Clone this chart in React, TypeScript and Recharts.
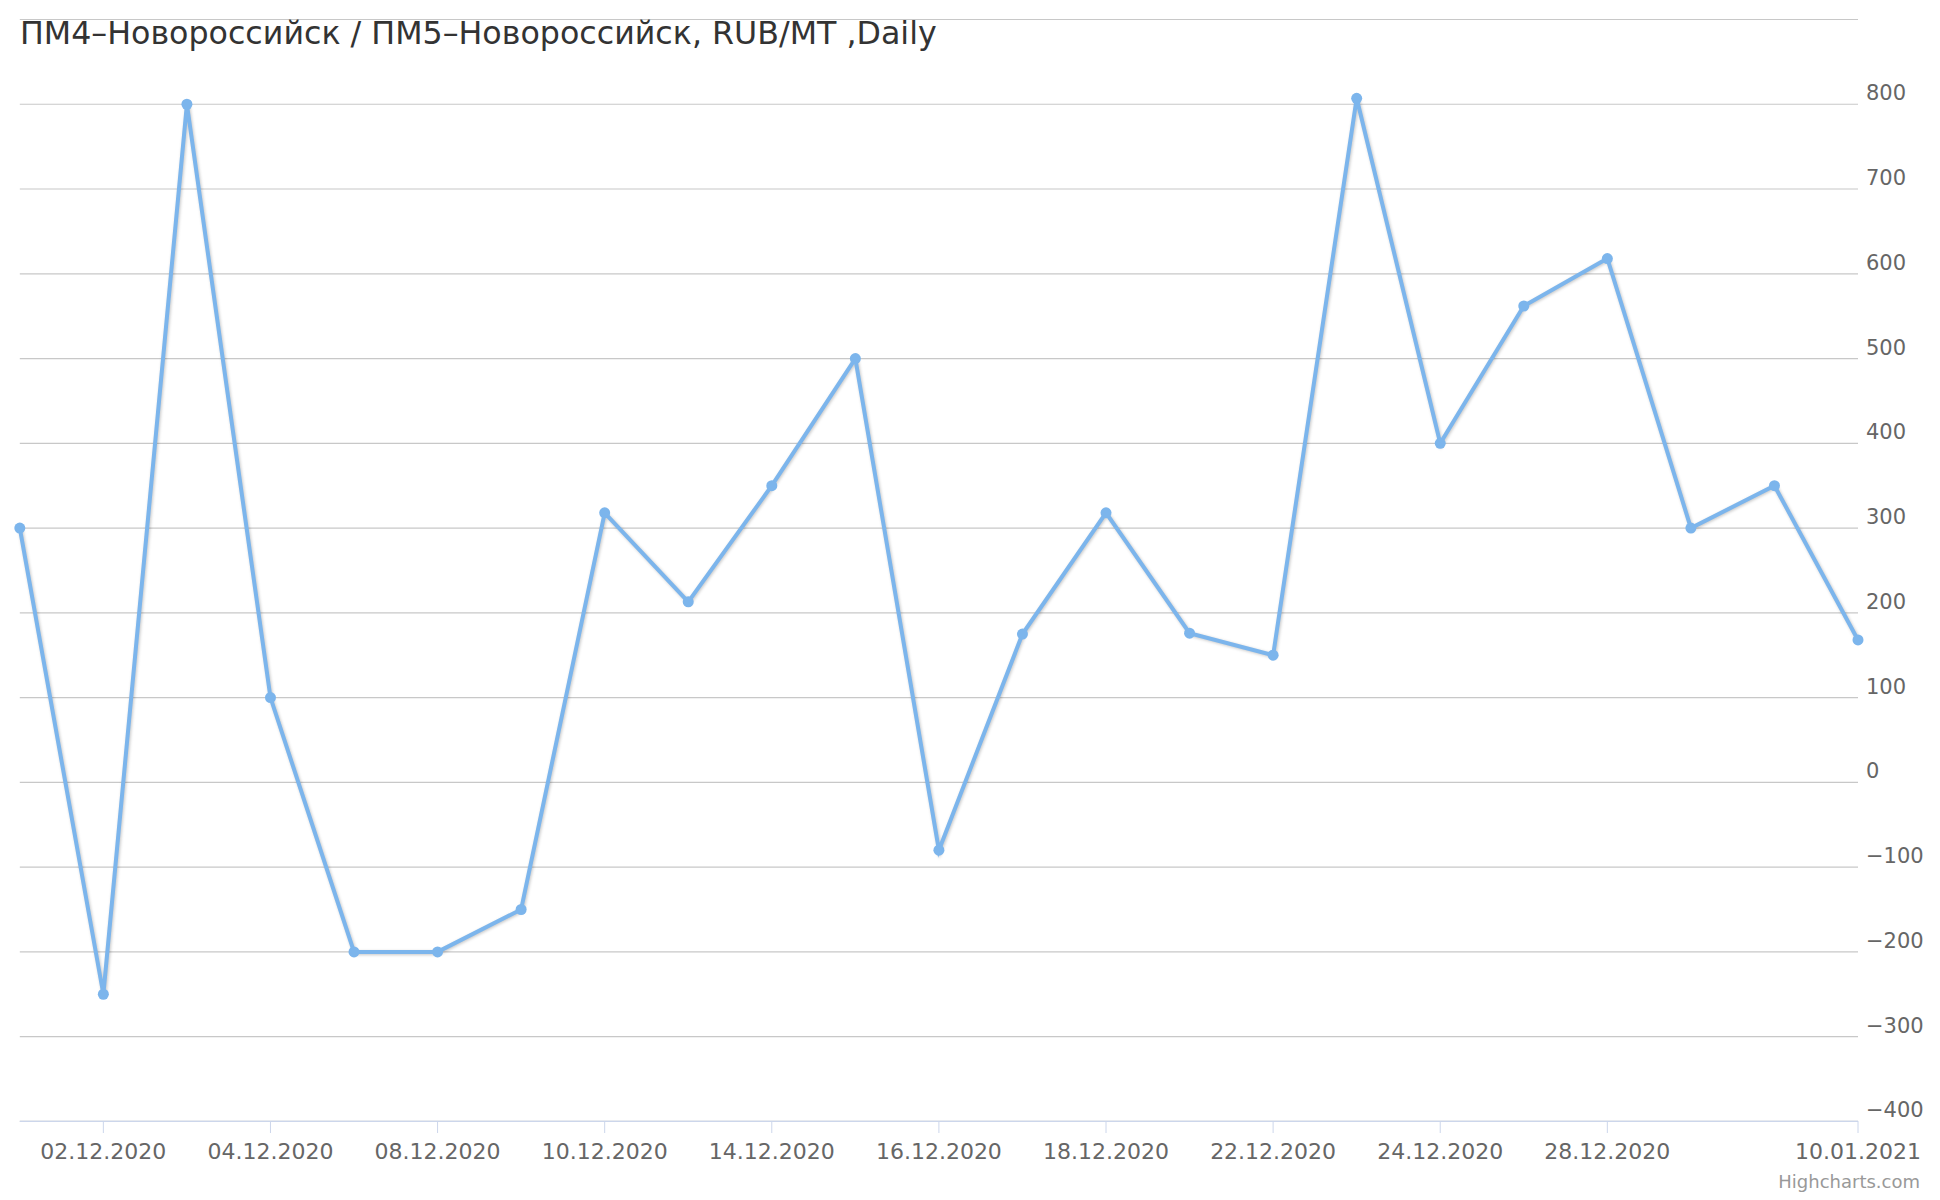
import React from 'react';
import { LineChart, Line, XAxis, YAxis, CartesianGrid } from 'recharts';

const dates = [
  '01.12.2020', '02.12.2020', '03.12.2020', '04.12.2020', '07.12.2020', '08.12.2020',
  '09.12.2020', '10.12.2020', '11.12.2020', '14.12.2020', '15.12.2020', '16.12.2020',
  '17.12.2020', '18.12.2020', '21.12.2020', '22.12.2020', '23.12.2020', '24.12.2020',
  '25.12.2020', '28.12.2020', '29.12.2020', '30.12.2020', '10.01.2021',
];
const values = [
  300, -250, 800, 100, -200, -200, -150, 318, 213, 350, 500, -80,
  175, 318, 176, 150, 807, 400, 562, 618, 300, 350, 168,
];
const xTicks = [1, 3, 5, 7, 9, 11, 13, 15, 17, 19, 22];
const yTicks = [-400, -300, -200, -100, 0, 100, 200, 300, 400, 500, 600, 700, 800, 900];

const data = values.map((v, i) => ({ i, date: dates[i], value: v }));

const font = '"DejaVu Sans", Verdana, sans-serif';

const YTick = (props: any) => {
  const { x, y, payload } = props;
  if (payload.value === 900) return null;
  const txt = payload.value < 0 ? '\u2212' + Math.abs(payload.value) : String(payload.value);
  return (
    <text x={x} y={y - 4} textAnchor="start" fill="#666666" fontSize={21} fontFamily={font}>
      {txt}
    </text>
  );
};

const XTick = (props: any) => {
  const { x, payload } = props;
  return (
    <g>
      <line x1={x} x2={x} y1={1121} y2={1133} stroke="#ccd6eb" strokeWidth={1} />
      <text x={x} y={1159} textAnchor="middle" fill="#666666" fontSize={22} fontFamily={font}>
        {dates[payload.value]}
      </text>
    </g>
  );
};

export default function App() {
  return (
    <div style={{ position: 'absolute', left: 0, top: 0, width: 1940, height: 1200, background: '#fff' }}>
      <style>{`.recharts-line-curve { filter: drop-shadow(1px 1px 1.5px rgba(0,0,0,0.22)); }`}</style>
      <LineChart
        width={1940}
        height={1200}
        data={data}
        margin={{ top: 19.5, right: 0, bottom: 77.6, left: 19.8 }}
      >
        <CartesianGrid horizontal vertical={false} stroke="#c8c8c8" strokeWidth={1.2} />
        <XAxis
          dataKey="i"
          type="number"
          domain={[0, 22]}
          ticks={xTicks}
          interval={0}
          height={1}
          tickLine={false}
          axisLine={{ stroke: '#ccd6eb', strokeWidth: 1.2 }}
          tick={<XTick />}
        />
        <YAxis
          orientation="right"
          width={82}
          domain={[-400, 900]}
          ticks={yTicks}
          interval={0}
          axisLine={false}
          tickLine={false}
          tickSize={0}
          tickMargin={8}
          tick={<YTick />}
        />
        <Line
          type="linear"
          dataKey="value"
          stroke="#7cb5ec"
          strokeWidth={4}
          dot={{ r: 5.5, fill: '#7cb5ec', stroke: '#7cb5ec', strokeWidth: 0 }}
          activeDot={false}
          isAnimationActive={false}
        />
      </LineChart>
      <div
        style={{
          position: 'absolute', left: 20, top: 13, fontFamily: font, fontSize: 31.7,
          color: '#333333', whiteSpace: 'nowrap', lineHeight: '40px',
        }}
      >
        ПМ4–Новороссийск / ПМ5–Новороссийск, RUB/MT ,Daily
      </div>
      <div
        style={{
          position: 'absolute', right: 20, top: 1171, fontFamily: font, fontSize: 18,
          color: '#999999', whiteSpace: 'nowrap',
        }}
      >
        Highcharts.com
      </div>
    </div>
  );
}
